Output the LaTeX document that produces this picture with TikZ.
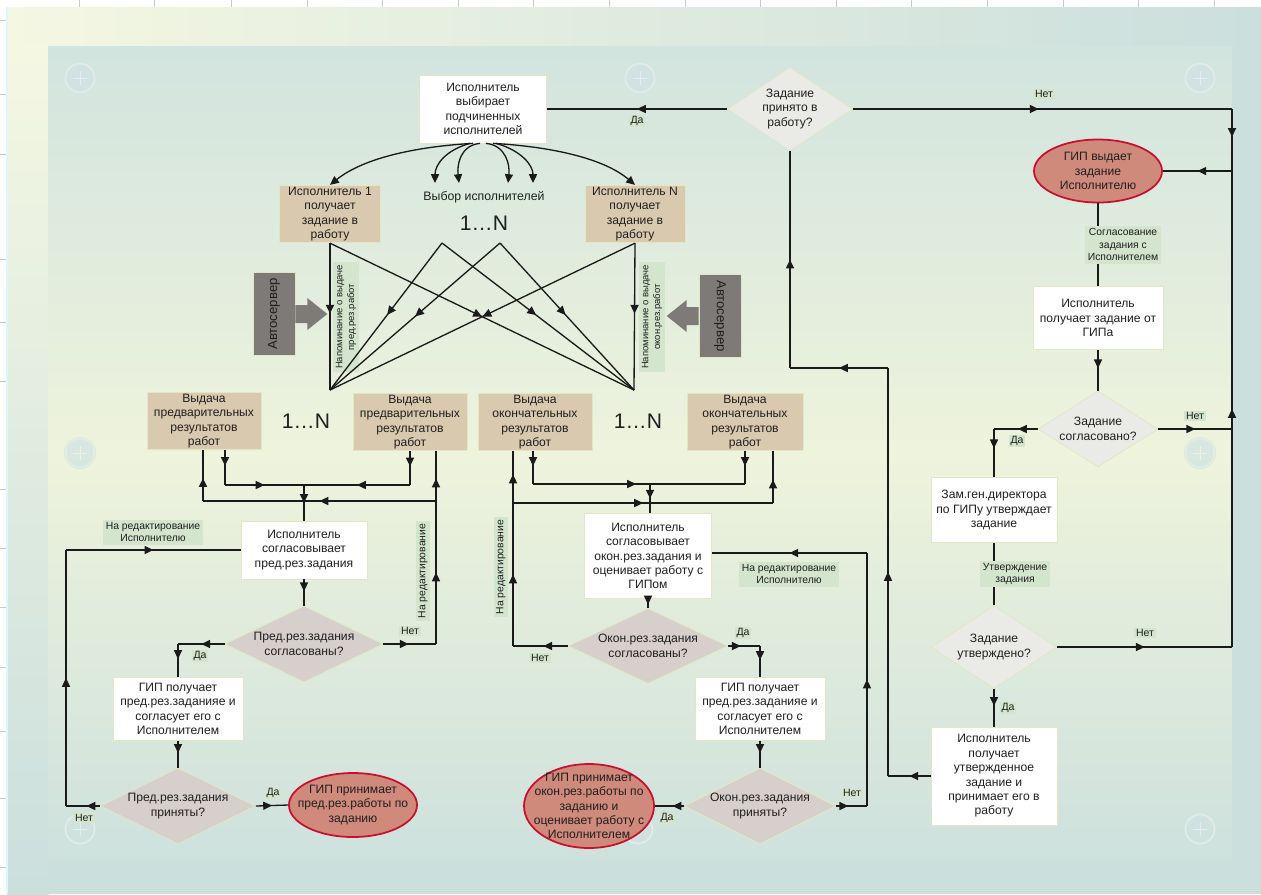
\documentclass[tikz,border=0pt]{standalone}
\usepackage{fontspec}
\setmainfont{Liberation Sans}
\usetikzlibrary{shapes.geometric,decorations.markings,arrows.meta,calc}

\definecolor{edge}{HTML}{E1E7C2}
\definecolor{tanfill}{HTML}{D9C9AE}
\definecolor{qlightfill}{HTML}{EAEAE6}
\definecolor{qdarkfill}{HTML}{D6CFCB}
\definecolor{termfill}{HTML}{D08A7C}
\definecolor{termline}{HTML}{C8102E}
\definecolor{notefill}{HTML}{D3E5CD}
\definecolor{autofill}{HTML}{7E7A77}
\definecolor{linecol}{HTML}{1A1A1A}
\definecolor{frameA}{HTML}{F4F7E2}
\definecolor{frameB}{HTML}{CBDFDD}
\definecolor{panelA}{HTML}{D2E4DF}
\definecolor{panelB}{HTML}{EEF3DC}
\definecolor{panelC}{HTML}{CEE1DD}
\definecolor{btnfill}{HTML}{CFE2E2}
\definecolor{btnrim}{HTML}{E6EFE6}
\definecolor{gridcol}{HTML}{C8CCD0}

\begin{document}
\begin{tikzpicture}[x=0.02cm,y=-0.02cm,
  font=\fontsize{6.9}{8.2}\selectfont, text=black!88,
  dims/.style 2 args={minimum width=#1*0.02cm, minimum height=#2*0.02cm},
  whitebox/.style={rectangle, draw=edge, fill=white, align=center, inner sep=1pt},
  tanbox/.style={rectangle, draw=edge, fill=tanfill, align=center, inner sep=1pt},
  qlight/.style={diamond, aspect=1.5, draw=edge, fill=qlightfill, align=center, inner sep=0pt},
  qdark/.style={diamond, aspect=2, draw=edge, fill=qdarkfill, align=center, inner sep=0pt},
  terminal/.style={ellipse, draw=termline, line width=1pt, fill=termfill, inner sep=0pt},
  notelabel/.style={fill=notefill, align=center, inner sep=1.5pt, font=\fontsize{5.9}{7.1}\selectfont},
  ans/.style={fill=notefill, inner sep=1pt, font=\fontsize{6}{7}\selectfont},
  autobox/.style={rectangle, draw=edge, fill=autofill, font=\fontsize{7.5}{9}\selectfont},
  flow/.style={draw=linecol, line width=0.75pt},
  endtip/.style={-{Triangle[length=5pt,width=4.6pt]}},
  tipat/.style={postaction={decorate}, decoration={markings, mark=at position #1 with {\arrow{Triangle[length=5pt,width=4.6pt]}}}}
]
\useasboundingbox (0,0) rectangle (1261,894);
\fill[white] (0,0) rectangle (1261,894);
\foreach \gx in {79,154,231,307,382,458,533,609,685,760,836,911,987,1063,1138,1214}
  \draw[gridcol, line width=0.4pt] (\gx,0) -- (\gx,7);
\foreach \gy in {20,94,154,259,322,381,489,548,607,667,731,798,867}
  \draw[gridcol, line width=0.4pt] (0,\gy) -- (6,\gy);
\fill[frameB] (7,7) rectangle (1261,894);
\shade[left color=frameA, right color=frameB] (7,7) rectangle (1261,47);
\shade[top color=frameA, bottom color=frameB] (7,46) rectangle (49,894);
\fill[blue!20!cyan!15] (6,7) rectangle (8,894);
\shade[top color=panelA, bottom color=panelC, middle color=panelB] (48,46) rectangle (1232,860);
\foreach \bx/\by in {80/78,640/78,1200/78,80/453,1200/453,80/829,638/829,1200/829} {
  \fill[btnfill, opacity=0.7] (\bx,\by) circle[radius=0.32cm];
  \draw[btnrim, opacity=0.7, line width=1.2pt] (\bx,\by) circle[radius=0.29cm];
  \draw[white, opacity=0.45, line width=0.4pt] (\bx-7,\by) -- (\bx+7,\by) (\bx,\by-7) -- (\bx,\by+7);
}

\path (483,109) node[whitebox, dims={127}{68}] (sel) {Исполнитель\\выбирает\\подчиненных\\исполнителей}
  (790,109) node[qlight, aspect=1.5, dims={125}{84}] (acc) {Задание\\принято в\\работу?}
  (1098,171) node[terminal, dims={128}{63}, label={[align=center]center:ГИП выдает\\задание\\Исполнителю}] (gipout) {}
  (1098,318) node[whitebox, dims={130}{63}] (getgip) {Исполнитель\\получает задание от\\ГИПа}
  (1098,429) node[qlight, aspect=1.58, dims={120}{76}] (agreed) {Задание\\согласовано?}
  (994,510) node[whitebox, dims={126}{65}] (deputy) {Зам.ген.директора\\по ГИПу утверждает\\задание}
  (994,647) node[qlight, aspect=1.52, dims={126}{83}] (approved) {Задание\\утверждено?}
  (994,776) node[whitebox, dims={126}{98}] (takes) {Исполнитель\\получает\\утвержденное\\задание и\\принимает его в\\работу}
  (330,214) node[tanbox, dims={101}{57}] (exec1) {Исполнитель 1\\получает\\задание в\\работу}
  (635,214) node[tanbox, dims={100}{57}] (execN) {Исполнитель N\\получает\\задание в\\работу}
  (484,197) node[font=\fontsize{7}{8.4}\selectfont] (choice) {Выбор исполнителей}
  (484,223) node[font=\fontsize{12}{14}\selectfont] (count) {1…N}
  (274,314) node[autobox, rotate=90, dims={80}{42}] (autoL) {Автосервер}
  (720,316) node[autobox, rotate=-90, dims={80}{42}] (autoR) {Автосервер}
  (346,317) node[notelabel, rotate=90, font=\fontsize{5.4}{6.6}\selectfont] (remind1) {Напоминание о выдаче\\пред.рез.работ}
  (652,317) node[notelabel, rotate=90, font=\fontsize{5.4}{6.6}\selectfont] (remind2) {Напоминание о выдаче\\окон.рез.работ}
  (204,421) node[tanbox, dims={114}{57}] (pre1) {Выдача\\предварительных\\результатов\\работ}
  (306,421) node[font=\fontsize{12}{14}\selectfont] (countpre) {1…N}
  (410,422) node[tanbox, dims={114}{57}] (preN) {Выдача\\предварительных\\результатов\\работ}
  (535,422) node[tanbox, dims={114}{57}] (fin1) {Выдача\\окончательных\\результатов\\работ}
  (638,421) node[font=\fontsize{12}{14}\selectfont] (countfin) {1…N}
  (745,422) node[tanbox, dims={116}{57}] (finN) {Выдача\\окончательных\\результатов\\работ}
  (304,550) node[whitebox, dims={126}{58}] (prechk) {Исполнитель\\согласовывает\\пред.рез.задания}
  (304,644) node[qdark, dims={158}{76}] (preok) {Пред.рез.задания\\согласованы?}
  (178,709) node[whitebox, dims={130}{63}] (gippre) {ГИП получает\\пред.рез.заданияе и\\согласует его с\\Исполнителем}
  (178,806) node[qdark, dims={155}{76}] (preacc) {Пред.рез.задания\\приняты?}
  (353,805) node[terminal, dims={128}{64}, label={[align=center]center:ГИП принимает\\пред.рез.работы по\\заданию}] (preend) {}
  (648,556) node[whitebox, dims={127}{85}] (finchk) {Исполнитель\\согласовывает\\окон.рез.задания и\\оценивает работу с\\ГИПом}
  (648,646) node[qdark, dims={159}{75}] (finok) {Окон.рез.задания\\согласованы?}
  (760,709) node[whitebox, dims={130}{63}] (gipfin) {ГИП получает\\пред.рез.заданияе и\\согласует его с\\Исполнителем}
  (760,806) node[qdark, dims={150}{76}] (finacc) {Окон.рез.задания\\приняты?}
  (589,806) node[terminal, dims={130}{84}, label={[align=center]center:ГИП принимает\\окон.рез.работы по\\заданию и\\оценивает работу с\\Исполнителем}] (finend) {}
  (637,121) node[ans] (yes1) {Да}
  (1044,94) node[ans] (no1) {Нет}
  (1195,416) node[ans] (no2) {Нет}
  (1017,441) node[ans] (yes2) {Да}
  (1145,633) node[ans] (no3) {Нет}
  (1008,708) node[ans] (yes3) {Да}
  (410,631) node[ans] (no4) {Нет}
  (200,656) node[ans] (yes4) {Да}
  (84,818) node[ans] (no5) {Нет}
  (273,793) node[ans] (yes5) {Да}
  (540,658) node[ans] (no6) {Нет}
  (743,633) node[ans] (yes6) {Да}
  (852,793) node[ans] (no7) {Нет}
  (667,818) node[ans] (yes7) {Да}
  (153,532) node[notelabel] (edit1) {На редактирование\\Исполнителю}
  (789,574) node[notelabel] (edit2) {На редактирование\\Исполнителю}
  (423,571) node[notelabel, rotate=90] (edit3) {На редактирование}
  (501,567) node[notelabel, rotate=90] (edit4) {На редактирование};

\coordinate (ne) at (1232,109);
\coordinate (j1) at (1232,171);
\coordinate (j2) at (1232,429);
\coordinate (se) at (1232,647);
\coordinate (dl) at (994,429);
\coordinate (tb) at (888,776);
\coordinate (tt) at (888,368);
\coordinate (tu) at (790,368);
\coordinate (c1) at (435,183);
\coordinate (c2) at (459,183);
\coordinate (c3) at (508,183);
\coordinate (c4) at (533,183);
\coordinate (p1) at (442,243);
\coordinate (p2) at (500,243);
\coordinate (cl) at (330,390);
\coordinate (cr) at (634,390);
\coordinate (pa) at (225,485);
\coordinate (pm) at (304,485);
\coordinate (pb) at (410,485);
\coordinate (k1) at (436,644);
\coordinate (k2) at (436,501);
\coordinate (k3) at (203,501);
\coordinate (yd) at (178,644);
\coordinate (q1) at (66,806);
\coordinate (q2) at (66,550);
\coordinate (fa) at (533,484);
\coordinate (fm) at (650,484);
\coordinate (fb) at (745,484);
\coordinate (n1) at (513,646);
\coordinate (n2) at (513,503);
\coordinate (n3) at (773,503);
\coordinate (fd) at (760,646);
\coordinate (r1) at (867,806);
\coordinate (r2) at (867,553);

\fill[autofill] (autoL.south) ++(0,-9) -- ++(12,0) -- ++(0,-7) -- ++(20,16) -- ++(-20,16) -- ++(0,-7) -- ++(-12,0) -- cycle;
\fill[autofill] (autoR.south) ++(0,-9) -- ++(-12,0) -- ++(0,-7) -- ++(-20,16) -- ++(20,16) -- ++(0,-7) -- ++(12,0) -- cycle;

\draw[flow, tipat=.5] (acc.west) -- (sel.east);
\draw[flow, tipat=.49] (acc.east) -- (ne);
\draw[flow, tipat=.45] (ne) -- (j1);
\draw[flow, tipat=.5] (se) -- (j1);
\draw[flow, tipat=.5] (j1) -- (gipout.east);
\draw[flow] (gipout.south) -- node[notelabel, xshift=0.5cm] {Согласование\\задания с\\Исполнителем} (getgip.north);
\draw[flow, tipat=.45] (getgip.south) -- (agreed.north);
\draw[flow, tipat=.5] (agreed.east) -- (j2);
\draw[flow, tipat=.45] (agreed.west) -- (dl);
\draw[flow, tipat=.4] (dl) -- (deputy.north);
\draw[flow] (deputy.south) -- node[notelabel, xshift=0.42cm] {Утверждение\\задания} (approved.north);
\draw[flow, tipat=.5] (approved.east) -- (se);
\draw[flow, tipat=.45] (approved.south) -- (takes.north);
\draw[flow, tipat=.5] (takes.west) -- (tb);
\draw[flow, tipat=.5] (tb) -- (tt);
\draw[flow, tipat=.5] (tt) -- (tu);
\draw[flow, tipat=.5] (tu) -- (acc.south);

\draw[flow, endtip] ([xshift=-0.2cm]sel.south) .. controls +(-53,3) and +(35,-28) .. (exec1.north);
\draw[flow, endtip] ([xshift=0.2cm]sel.south) .. controls +(53,3) and +(-33,-28) .. (execN.north);
\draw[flow, endtip] ([xshift=-0.26cm]sel.south) .. controls +(-25,7) and +(0,-18) .. (c1);
\draw[flow, endtip] ([xshift=-0.06cm]sel.south) .. controls +(-20,2) and +(-2,-18) .. (c2);
\draw[flow, endtip] ([xshift=0.06cm]sel.south) .. controls +(20,2) and +(2,-18) .. (c3);
\draw[flow, endtip] ([xshift=0.26cm]sel.south) .. controls +(25,7) and +(0,-18) .. (c4);

\draw[flow, tipat=.48] (exec1.south) -- (cl);
\draw[flow, tipat=.5] (exec1.south) -- (cr);
\draw[flow, tipat=.49] (p1) -- (cl);
\draw[flow, tipat=.49] (p1) -- (cr);
\draw[flow, tipat=.5] (p2) -- (cl);
\draw[flow, tipat=.49] (p2) -- (cr);
\draw[flow, tipat=.5] (execN.south) -- (cl);
\draw[flow, tipat=.48] (execN.south) -- (cr);

\draw[flow, tipat=.45] (pa |- pre1.south) -- (pa);
\draw[flow, tipat=.5] (pa) -- (pm);
\draw[flow, tipat=.45] (pb |- preN.south) -- (pb);
\draw[flow, tipat=.5] (pb) -- (pm);
\draw[flow, tipat=.5] (pm) -- (prechk.north);
\draw[flow, tipat=.48] (preok.east) -- (k1);
\draw[flow, tipat=.5] (k1) -- (k2);
\draw[flow, tipat=.45] (k2) -- (k2 |- preN.south);
\draw[flow, tipat=.5] (k2) -- (k3);
\draw[flow, tipat=.45] (k3) -- (k3 |- pre1.south);
\draw[flow, tipat=.45] (prechk.south) -- (preok.north);
\draw[flow, tipat=.5] (preok.west) -- (yd);
\draw[flow, tipat=.45] (yd) -- (gippre.north);
\draw[flow, tipat=.45] (gippre.south) -- (preacc.north);
\draw[flow, tipat=.5] (preacc.east) -- (preend.west);
\draw[flow, tipat=.4] (preacc.west) -- (q1);
\draw[flow, tipat=.5] (q1) -- (q2);
\draw[flow, tipat=.5] (q2) -- (q2 -| prechk.west);

\draw[flow, tipat=.45] (fa |- fin1.south) -- (fa);
\draw[flow, tipat=.88] (fa) -- (fm);
\draw[flow, tipat=.45] (fb |- finN.south) -- (fb);
\draw[flow] (fb) -- (fm);
\draw[flow, tipat=.5] (fm) -- (fm |- finchk.north);
\draw[flow, tipat=.45] (finok.west) -- (n1);
\draw[flow, tipat=.5] (n1) -- (n2);
\draw[flow, tipat=.55] (n2) -- (n2 |- fin1.south);
\draw[flow, tipat=.5] (n2) -- (n3);
\draw[flow, tipat=.45] (n3) -- (n3 |- finN.south);
\draw[flow, tipat=.6] (finchk.south) -- (finok.north);
\draw[flow, tipat=.4] (finok.east) -- (fd);
\draw[flow, tipat=.45] (fd) -- (gipfin.north);
\draw[flow, tipat=.45] (gipfin.south) -- (finacc.north);
\draw[flow, tipat=.4] (finacc.west) -- (finend.east);
\draw[flow, tipat=.4] (finacc.east) -- (r1);
\draw[flow, tipat=.5] (r1) -- (r2);
\draw[flow, tipat=.5] (r2) -- (r2 -| finchk.east);

\end{tikzpicture}
\end{document}
